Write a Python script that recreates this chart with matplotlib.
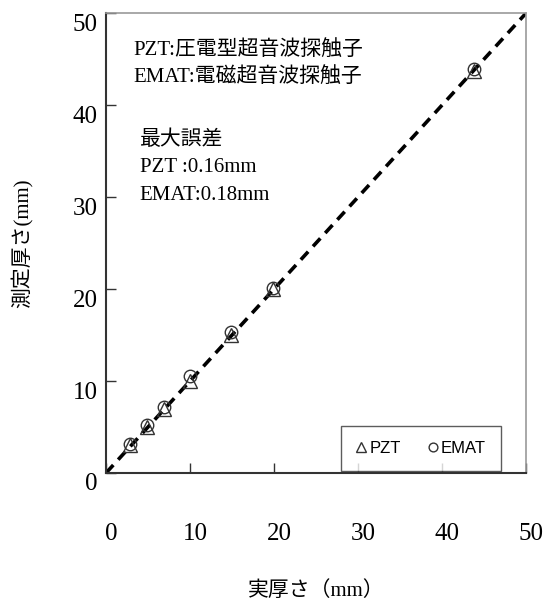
import matplotlib
matplotlib.use("Agg")
import matplotlib.pyplot as plt
import matplotlib.transforms as mtransforms

plt.rcParams['font.family'] = ['Liberation Serif', 'Noto Sans CJK JP', 'DejaVu Sans']

# data
actual = [2.8, 4.9, 6.9, 10.0, 14.9, 19.9, 43.8]
pzt = [3.0, 5.0, 7.0, 10.0, 15.0, 20.0, 43.7]
emat = [3.2, 5.2, 7.2, 10.5, 15.3, 20.1, 43.9]
ticks = [0, 10, 20, 30, 40, 50]

fig = plt.figure(figsize=(5.55, 6.10), dpi=100)
ax = fig.add_axes([0.191, 0.2246, 0.757, 0.754])

ax.plot([0, 50], [0, 50], color="black", lw=2.6, ls=(0, (3, 2)), zorder=2)
ax.plot(actual, pzt, ls="none", marker="^", ms=10, mfc="none", mec="#333333", mew=1.0,
        label="PZT", zorder=3)
ax.plot(actual, emat, ls="none", marker="o", ms=9, mfc="none", mec="#333333", mew=1.0,
        label="EMAT", zorder=3)

ax.set_xlim(0, 50)
ax.set_ylim(0, 50)
ax.set_xticks(ticks)
ax.set_yticks(ticks)
ax.tick_params(direction="in", length=7, width=1, colors="#333333", labelcolor="black",
               labelsize=18)
ax.tick_params(axis="x", pad=36)
ax.tick_params(axis="y", pad=6)
# labels in the original sit a bit low
off = mtransforms.ScaledTranslation(0, -9 / 100, fig.dpi_scale_trans)
for lab in ax.get_yticklabels():
    lab.set_transform(lab.get_transform() + off)
off2 = mtransforms.ScaledTranslation(5 / 100, 0, fig.dpi_scale_trans)
for lab in ax.get_xticklabels():
    lab.set_transform(lab.get_transform() + off2)

for s in ["left", "bottom"]:
    ax.spines[s].set_color("#333333")
    ax.spines[s].set_linewidth(1.5)
for s in ["top", "right"]:
    ax.spines[s].set_color("#999999")
    ax.spines[s].set_linewidth(1.2)

ax.set_xlabel("実厚さ（mm）", fontsize=15, labelpad=26)
ax.set_ylabel("測定厚さ(mm)", fontsize=15, labelpad=28)

tx = dict(fontsize=15, transform=ax.transData, va="center", ha="left")
ax.text(3.2, 46.0, "PZT:圧電型超音波探触子", **tx)
ax.text(3.2, 43.0, "EMAT:電磁超音波探触子", **tx)
ax.text(4.0, 36.2, "最大誤差", **tx)
ax.text(4.0, 33.2, "PZT :0.16mm", **tx)
ax.text(4.0, 30.2, "EMAT:0.18mm", **tx)

leg = ax.legend(loc="lower right", bbox_to_anchor=(0.94, 0.005), ncol=2, frameon=True,
                fancybox=False, edgecolor="#333333", markerscale=0.7, handlelength=0.6,
                handletextpad=0.2, columnspacing=1.6, borderpad=0.9, borderaxespad=0,
                prop={"family": "Liberation Sans", "size": 12})
leg.get_frame().set_linewidth(1.0)

fig.savefig("out.png", dpi=100)
